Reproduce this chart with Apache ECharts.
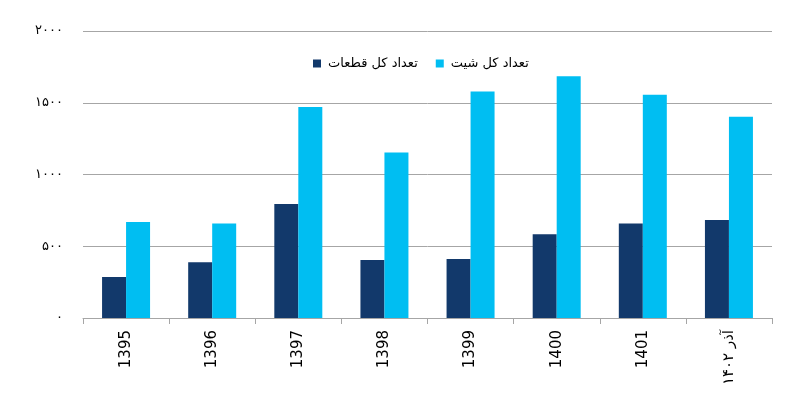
<!DOCTYPE html>
<html>
<head>
<meta charset="utf-8">
<script src="https://cdn.jsdelivr.net/npm/echarts@6/dist/echarts.min.js"></script>
<style>
  html, body { margin: 0; padding: 0; background: #fff; }
  #chart { width: 800px; height: 399px; }
</style>
</head>
<body>
<div id="chart"></div>
<script>
const categories = ['1395', '1396', '1397', '1398', '1399', '1400', '1401', 'آذر ۱۴۰۲']
const partsTotal = [286, 388, 795, 404, 411, 583, 658, 683]
const sheetsTotal = [669, 658, 1471, 1153, 1578, 1685, 1555, 1402]
const yTickLabels = { 0: '۰', 500: '۵۰۰', 1000: '۱۰۰۰', 1500: '۱۵۰۰', 2000: '۲۰۰۰' }

const chart = echarts.init(document.getElementById('chart'))
const font = 'DejaVu Sans, Noto Sans, sans-serif'

chart.setOption({
  animation: false,
  textStyle: { fontFamily: font },
  grid: { left: 83, right: 28, top: 31, bottom: 81 },
  legend: {
    top: 52,
    left: 308,
    itemWidth: 8,
    itemHeight: 8,
    itemGap: 18,
    icon: 'rect',
    textStyle: { fontSize: 13, color: '#000', fontFamily: font, padding: [0, 0, 0, 2] }
  },
  xAxis: {
    type: 'category',
    data: categories,
    axisLine: { lineStyle: { color: '#a6a6a6' } },
    axisTick: { show: true, length: 6, lineStyle: { color: '#a6a6a6' } },
    axisLabel: { rotate: 90, margin: 12, fontSize: 15, color: '#000', fontFamily: font }
  },
  yAxis: {
    type: 'value',
    min: 0,
    max: 2000,
    interval: 500,
    axisLine: { show: false },
    axisTick: { show: false },
    splitLine: { lineStyle: { color: '#a6a6a6' } },
    axisLabel: {
      margin: 20,
      fontSize: 13,
      color: '#000',
      fontFamily: font,
      formatter: v => yTickLabels[v]
    }
  },
  series: [
    {
      name: 'تعداد کل قطعات',
      type: 'bar',
      data: partsTotal,
      barWidth: 24,
      barGap: '0%',
      itemStyle: { color: '#12396b' }
    },
    {
      name: 'تعداد کل شیت',
      type: 'bar',
      data: sheetsTotal,
      barWidth: 24,
      itemStyle: { color: '#00bef2' }
    }
  ]
})
</script>
</body>
</html>
